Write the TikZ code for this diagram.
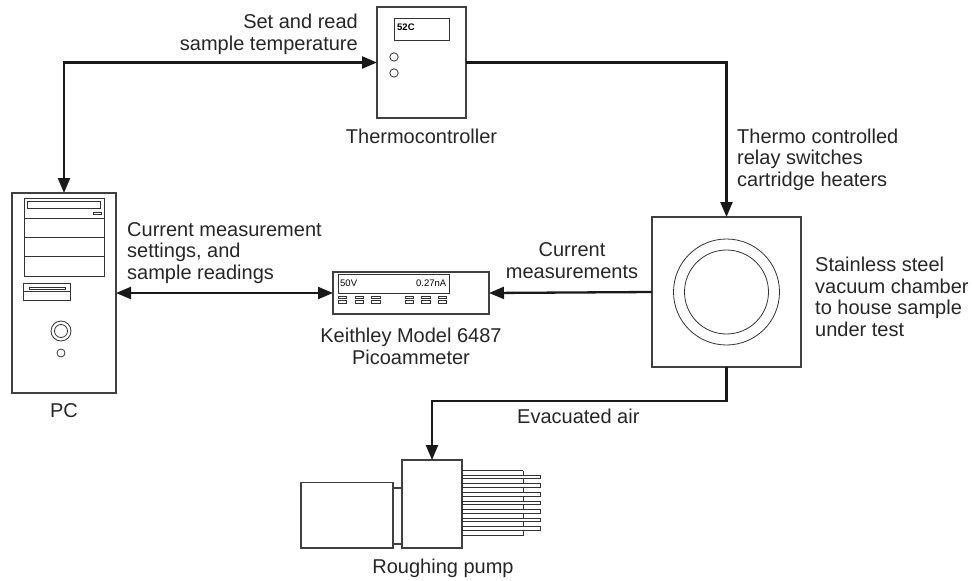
\documentclass[tikz,border=0pt]{standalone}
\usepackage{fontspec}
\setmainfont{Liberation Sans}
\usetikzlibrary{arrows.meta}
\tikzset{bigtip/.tip={Triangle[length=15pt,width=12pt]}}
\begin{document}
\begin{tikzpicture}[x=1pt,y=-1pt,
  outline/.style={draw=black!75, line width=1.1pt},
  detail/.style={draw=black!80, line width=0.8pt},
  box/.style={outline, rectangle, inner sep=0pt, outer sep=0pt},
  link/.style={line width=2.3pt, draw=black!90},
  label/.style={font=\fontsize{20}{21.5}\selectfont, inner sep=0pt, text=black!85},
  small/.style={font=\fontsize{9.5}{10}\selectfont, inner sep=0pt},
]
\useasboundingbox (0,0) rectangle (972,581);

% ---------- equipment outlines ----------
\node[box, minimum width=104pt, minimum height=200pt] (pc) at (64,293) {};
\node[box, minimum width=89pt, minimum height=111pt] (thermo) at (421.5,62.5) {};
\node[box, minimum width=156pt, minimum height=42pt] (keithley) at (411,293) {};
\node[box, minimum width=149pt, minimum height=150pt] (chamber) at (726.5,292) {};
\node[box, minimum width=60pt, minimum height=88pt] (pumphead) at (432,504) {};

% ---------- PC tower ----------
\draw[detail] (24,198) rectangle (104,276);
\draw[detail] (24,218) -- (104,218) (24,237) -- (104,237) (24,256) -- (104,256);
\draw[detail] (27,201) rectangle (100,208);
\draw[detail] (93,212) rectangle (101,214.5);
\draw[detail] (23,283) rectangle (70,300);
\draw[detail] (23,291.5) -- (70,291.5);
\draw[detail] (29,287) rectangle (65,289);
\draw[detail] (61,331) circle (10);
\draw[detail] (61,331) circle (6.5);
\draw[detail] (61,353) circle (4);

% ---------- thermocontroller front panel ----------
\draw[detail] (394,18) rectangle (449,40);
\node[small, font=\bfseries\fontsize{9.5}{10}\selectfont, anchor=base west] (tempread) at (397,30) {52C};
\draw[detail] (394,57) circle (4.2);
\draw[detail] (394,73) circle (4.2);

% ---------- picoammeter front panel ----------
\draw[detail] (338,274) rectangle (449,293);
\node[small, anchor=base west] (volt) at (340,286) {50V};
\node[small, anchor=base east] (amp) at (446.5,286) {0.27nA};
\foreach \bx in {338.3,355,371.7,405,421.7,438.3}{
  \draw[detail, line width=0.7pt] (\bx,296) rectangle ++(8.3,2.7);
  \draw[detail, line width=0.7pt] (\bx,300.7) rectangle ++(8.3,2.7);
}

% ---------- vacuum chamber port ----------
\draw[detail] (chamber.center) circle (53);
\draw[detail] (chamber.center) circle (42);

% ---------- roughing pump ----------
\draw[outline] (301,482.5) rectangle (393,548);
\draw[outline] (393,488) rectangle (402,544);
\draw[detail] (462,470.5) -- (523,470.5) (462,535.5) -- (523,535.5) (523,470.5) -- (523,535.5);
\foreach \k in {0,...,6}{
  \draw[detail, line width=0.7pt, fill=white] (462,477+8.55*\k-1.8) rectangle (540,477+8.55*\k+1.8);
}

% ---------- connections ----------
\draw[link, {bigtip}-{bigtip}] (pc.north) |- (thermo.west);
\draw[link, -{bigtip}] (thermo.east) -| (chamber.north);
\draw[link, {bigtip}-{bigtip}] (pc.east |- keithley.west) -- (keithley.west);
\draw[link, -{bigtip}] (chamber.west) -- (keithley.east);
\draw[link, -{bigtip}] (chamber.south) -- ++(0,34) -| (pumphead.north);

% ---------- labels (base = baseline of the last line) ----------
\node[label, align=right, anchor=base east] (lset) at (358,50) {Set and read\\sample temperature};
\node[label, anchor=base] (lthermo) at (421.5,143) {Thermocontroller};
\node[label, align=left, anchor=base west] (lrelay) at (737,186) {Thermo controlled\\relay switches\\cartridge heaters};
\node[label, align=left, anchor=base west] (lsettings) at (127,279) {Current measurement\\settings, and\\sample readings};
\node[label, align=center, anchor=base] (lmeas) at (572,278) {Current\\measurements};
\node[label, align=left, anchor=base west] (lchamber) at (815,336) {Stainless steel\\vacuum chamber\\to house sample\\under test};
\node[label, align=center, anchor=base] (lkeithley) at (411,364) {Keithley Model 6487\\Picoammeter};
\node[label, anchor=base] (lpc) at (64,417) {PC};
\node[label, anchor=base west] (lair) at (517,423) {Evacuated air};
\node[label, anchor=base] (lpump) at (443,573) {Roughing pump};
\end{tikzpicture}
\end{document}
